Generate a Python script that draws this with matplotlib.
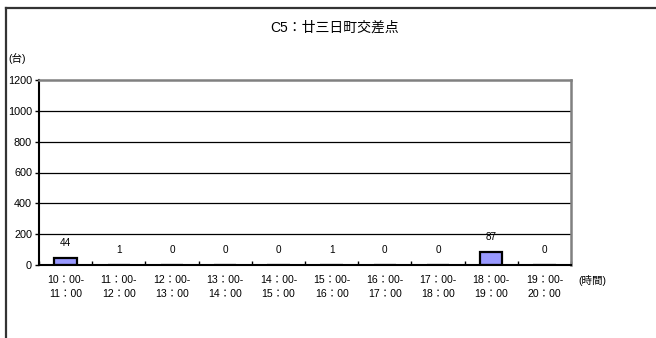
import matplotlib
matplotlib.use("Agg")
import matplotlib.pyplot as plt
from matplotlib.lines import Line2D
import numpy as np

plt.rcParams['font.family'] = ['Liberation Sans', 'Noto Sans CJK JP', 'DejaVu Sans']

title = "C5：廿三日町交差点"
categories = ["10：00-\n11：00", "11：00-\n12：00", "12：00-\n13：00", "13：00-\n14：00",
              "14：00-\n15：00", "15：00-\n16：00", "16：00-\n17：00", "17：00-\n18：00",
              "18：00-\n19：00", "19：00-\n20：00"]
values = [44, 1, 0, 0, 0, 1, 0, 0, 87, 0]
yticks = [0, 200, 400, 600, 800, 1000, 1200]

W, H = 656, 338
fig = plt.figure(figsize=(W/100, H/100), dpi=100)
ax = fig.add_axes([39/W, 1-265/H, (571-39)/W, (265-80)/H])

x = np.arange(len(values))
ax.bar(x, values, width=0.42, color='#9999FF', edgecolor='black', linewidth=1.6, zorder=3)
for xi, v in zip(x, values):
    ax.annotate(str(v), (xi, v), xytext=(0, 10.8), textcoords='offset points',
                ha='center', va='center', fontsize=7.2, zorder=4)

ax.set_xlim(-0.5, len(values)-0.5)
ax.set_ylim(0, 1200)
ax.set_yticks(yticks)
ax.set_yticklabels([str(t) for t in yticks], fontsize=7.8)
ax.set_xticks(x)
ax.set_xticklabels(categories, fontsize=7.6, linespacing=1.5)
ax.tick_params(axis='x', which='major', length=0, pad=7.5)
ax.set_xticks(np.arange(-0.5, len(values)+0.5, 1), minor=True)
ax.tick_params(axis='x', which='minor', direction='in', length=3, width=1)
ax.tick_params(axis='y', direction='out', length=3, width=1, pad=2)

for t in yticks[1:-1]:
    ax.axhline(t, color='black', linewidth=0.9, zorder=1)
ax.spines['top'].set_color('#808080')
ax.spines['top'].set_linewidth(1.8)
ax.spines['right'].set_color('#808080')
ax.spines['right'].set_linewidth(1.8)
ax.spines['left'].set_linewidth(1.5)
ax.spines['bottom'].set_linewidth(1.5)
ax.spines['bottom'].set_zorder(5)

fig.text(335/W, 1-28/H, title, ha='center', va='center', fontsize=10)
fig.text(8/W, 1-58/H, "(台)", ha='left', va='center', fontsize=7.6)
fig.text(578/W, 1-280/H, "(時間)", ha='left', va='center', fontsize=7.6)

# outer frame (top and left visible)
fig.add_artist(Line2D([6/W, 6/W], [0, 1-8/H], transform=fig.transFigure, color='#333333', linewidth=1.6))
fig.add_artist(Line2D([6/W, 1], [1-8/H, 1-8/H], transform=fig.transFigure, color='#333333', linewidth=1.6))

fig.savefig("out.png", dpi=100)
